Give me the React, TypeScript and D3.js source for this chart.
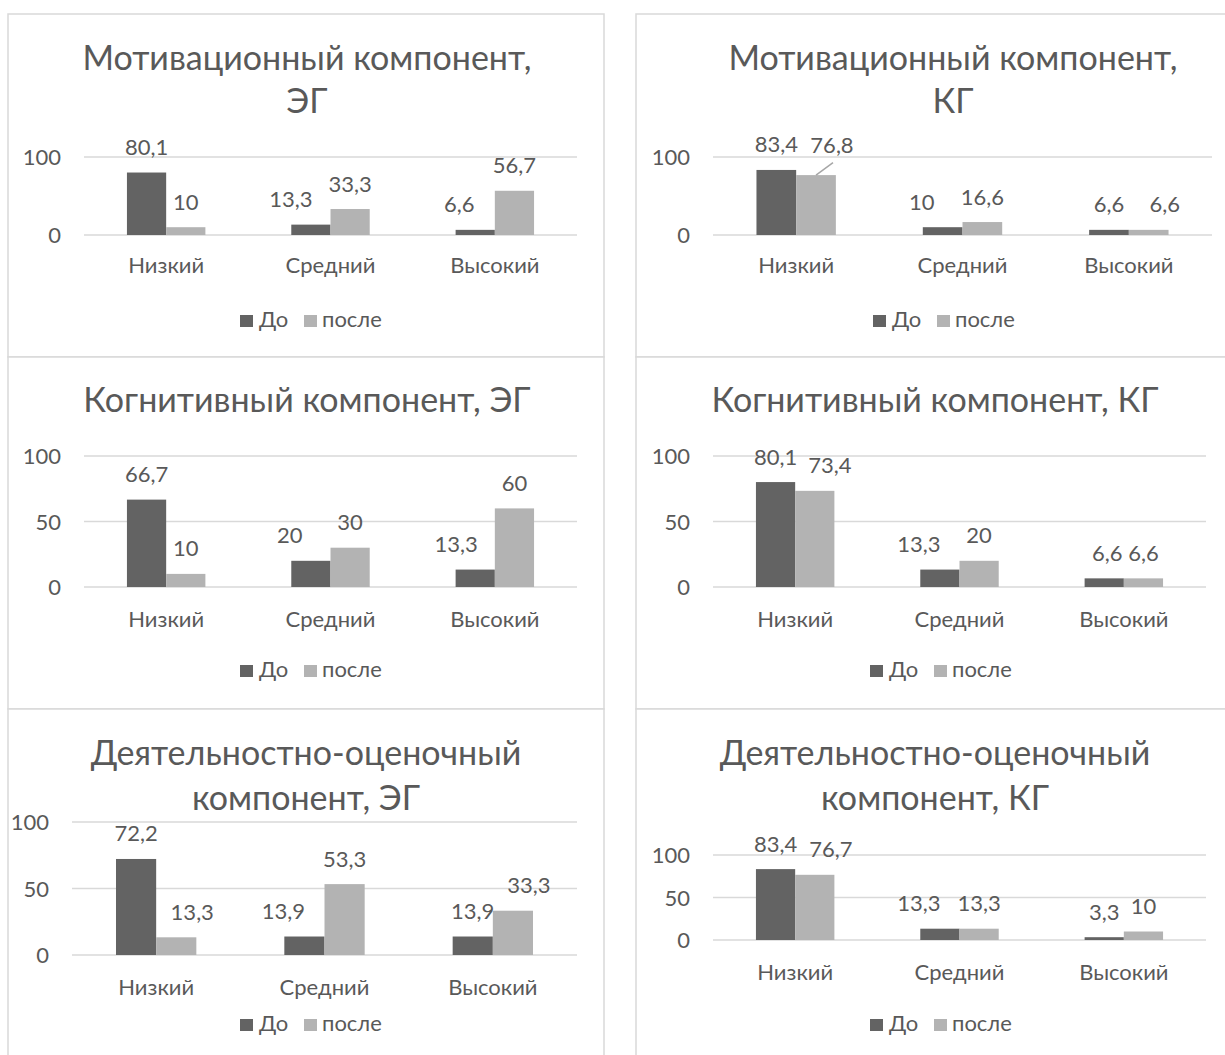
import React from "react";
import * as d3 from "d3";

// ---------- data ----------
const CATEGORIES = ["Низкий", "Средний", "Высокий"];
const SERIES = ["До", "после"];

const motivEG_before = [80.1, 13.3, 6.6];
const motivEG_after = [10, 33.3, 56.7];
const motivKG_before = [83.4, 10, 6.6];
const motivKG_after = [76.8, 16.6, 6.6];
const cognEG_before = [66.7, 20, 13.3];
const cognEG_after = [10, 30, 60];
const cognKG_before = [80.1, 13.3, 6.6];
const cognKG_after = [73.4, 20, 6.6];
const actEG_before = [72.2, 13.9, 13.9];
const actEG_after = [13.3, 53.3, 33.3];
const actKG_before = [83.4, 13.3, 3.3];
const actKG_after = [76.7, 13.3, 10];

const TICKS_MOTIV = [0, 100];
const TICKS_FULL = [0, 50, 100];

const TITLE_MOTIV_EG = ["Мотивационный компонент,", "ЭГ"];
const TITLE_MOTIV_KG = ["Мотивационный компонент,", "КГ"];
const TITLE_COGN_EG = ["Когнитивный компонент, ЭГ"];
const TITLE_COGN_KG = ["Когнитивный компонент, КГ"];
const TITLE_ACT_EG = ["Деятельностно-оценочный", "компонент, ЭГ"];
const TITLE_ACT_KG = ["Деятельностно-оценочный", "компонент, КГ"];

// ---------- style ----------
const FONT = "Lato, 'Open Sans', 'Noto Sans', sans-serif";
const TEXT = "#595959";
const GRID = "#d9d9d9";
const COLORS = ["#636363", "#b3b3b3"];
const TITLE_SIZE = 34;
const LABEL_SIZE = 22;

// ---------- layout (positions only) ----------
interface Panel {
  title: string[];
  before: number[];
  after: number[];
  ticks: number[];
  box: [number, number, number, number];
  plotX: [number, number];
  plotY: [number, number];
  titleX: number;
  titleY: number[];
  legendX: number;
  legendY: number;
  catDy: number;
  shift: number[][]; // [series][category] dx nudges
  lift?: number[][];
  leader?: boolean[][];
}

const PANELS: Panel[] = [
  {
    title: TITLE_MOTIV_EG, before: motivEG_before, after: motivEG_after, ticks: TICKS_MOTIV,
    box: [8, 14, 604, 357], plotX: [84, 577], plotY: [235, 157],
    titleX: 307, titleY: [70, 113], legendX: 240, legendY: 327, catDy: 38,
    shift: [[0, -20, -16], [0, 0, 0]],
  },
  {
    title: TITLE_MOTIV_KG, before: motivKG_before, after: motivKG_after, ticks: TICKS_MOTIV,
    box: [636, 14, 1240, 357], plotX: [713, 1212], plotY: [235, 157],
    titleX: 953, titleY: [70, 113], legendX: 873, legendY: 327, catDy: 38,
    shift: [[0, -21, 0], [16, 0, 16]],
    lift: [[0, 0, 0], [5, 0, 0]],
    leader: [[false, false, false], [true, false, false]],
  },
  {
    title: TITLE_COGN_EG, before: cognEG_before, after: cognEG_after, ticks: TICKS_FULL,
    box: [8, 357, 604, 709], plotX: [84, 577], plotY: [587, 456],
    titleX: 307, titleY: [412], legendX: 240, legendY: 677, catDy: 40,
    shift: [[0, -21, -19], [0, 0, 0]],
  },
  {
    title: TITLE_COGN_KG, before: cognKG_before, after: cognKG_after, ticks: TICKS_FULL,
    box: [636, 357, 1240, 709], plotX: [713, 1206], plotY: [587, 456],
    titleX: 935, titleY: [412], legendX: 870, legendY: 677, catDy: 40,
    shift: [[0, -21, 3], [15, 0, 0]],
  },
  {
    title: TITLE_ACT_EG, before: actEG_before, after: actEG_after, ticks: TICKS_FULL,
    box: [8, 709, 604, 1070], plotX: [72, 577], plotY: [955, 822],
    titleX: 306, titleY: [765, 810], legendX: 240, legendY: 1031, catDy: 40,
    shift: [[0, -21, 0], [16, 0, 16]],
  },
  {
    title: TITLE_ACT_KG, before: actKG_before, after: actKG_after, ticks: TICKS_FULL,
    box: [636, 709, 1240, 1070], plotX: [713, 1206], plotY: [940, 855],
    titleX: 935, titleY: [765, 810], legendX: 870, legendY: 1031, catDy: 40,
    shift: [[0, -21, 0], [16, 0, 0]],
  },
];

function ChartPanel({ p }: { p: Panel }) {
  const x = d3.scaleBand<string>().domain(CATEGORIES).range(p.plotX).padding(0);
  const inner = d3
    .scaleBand<string>()
    .domain(SERIES)
    .range([0, x.bandwidth()])
    .paddingInner(0)
    .paddingOuter(1.095);
  const y = d3.scaleLinear().domain([0, 100]).range(p.plotY);
  const values = [p.before, p.after];
  const [bx0, by0, bx1, by1] = p.box;

  return (
    <g>
      <rect x={bx0} y={by0} width={bx1 - bx0} height={by1 - by0} fill="#fff" stroke={GRID} strokeWidth={1.5} />
      {p.title.map((t, i) => (
        <text key={i} x={p.titleX} y={p.titleY[i]} textAnchor="middle" fontSize={TITLE_SIZE} fill={TEXT}>
          {t}
        </text>
      ))}
      {p.ticks.map((t) => (
        <g key={t}>
          <line x1={p.plotX[0]} x2={p.plotX[1]} y1={y(t)} y2={y(t)} stroke={GRID} strokeWidth={1.5} />
          <text x={p.plotX[0] - 23} y={y(t) + 8} textAnchor="end" fontSize={LABEL_SIZE} fill={TEXT}>
            {t}
          </text>
        </g>
      ))}
      {SERIES.map((s, si) =>
        CATEGORIES.map((c, ci) => {
          const v = values[si][ci];
          const bx = (x(c) as number) + (inner(s) as number);
          const bw = inner.bandwidth();
          return (
            <rect key={s + c} x={bx} y={y(v)} width={bw} height={y(0) - y(v)} fill={COLORS[si]} />
          );
        })
      )}
      {SERIES.map((s, si) =>
        CATEGORIES.map((c, ci) => {
          const v = values[si][ci];
          const cx = (x(c) as number) + (inner(s) as number) + inner.bandwidth() / 2;
          const lx = cx + p.shift[si][ci];
          const ly = y(v) - 17.5 - (p.lift ? p.lift[si][ci] : 0);
          const lead = p.leader ? p.leader[si][ci] : false;
          return (
            <g key={"l" + s + c}>
              {lead && (
                <line x1={lx + 1} y1={ly + 10} x2={cx} y2={y(v)} stroke="#a6a6a6" strokeWidth={1.5} />
              )}
              <text x={lx} y={ly} textAnchor="middle" fontSize={LABEL_SIZE} fill={TEXT}>
                {String(v).replace(".", ",")}
              </text>
            </g>
          );
        })
      )}
      {CATEGORIES.map((c) => (
        <text
          key={c}
          x={(x(c) as number) + x.bandwidth() / 2}
          y={p.plotY[0] + p.catDy}
          textAnchor="middle"
          fontSize={LABEL_SIZE}
          fill={TEXT}
        >
          {c}
        </text>
      ))}
      <g>
        <rect x={p.legendX} y={p.legendY - 12} width={13} height={12} fill={COLORS[0]} />
        <text x={p.legendX + 19} y={p.legendY} fontSize={LABEL_SIZE} fill={TEXT}>
          {SERIES[0]}
        </text>
        <rect x={p.legendX + 64} y={p.legendY - 12} width={13} height={12} fill={COLORS[1]} />
        <text x={p.legendX + 82} y={p.legendY} fontSize={LABEL_SIZE} fill={TEXT}>
          {SERIES[1]}
        </text>
      </g>
    </g>
  );
}

export default function App() {
  return (
    <svg
      width={1225}
      height={1055}
      style={{ position: "absolute", left: 0, top: 0, background: "#fff" }}
      fontFamily={FONT}
    >
      <rect x={0} y={0} width={1225} height={1055} fill="#fff" />
      {PANELS.map((p, i) => (
        <ChartPanel key={i} p={p} />
      ))}
    </svg>
  );
}
